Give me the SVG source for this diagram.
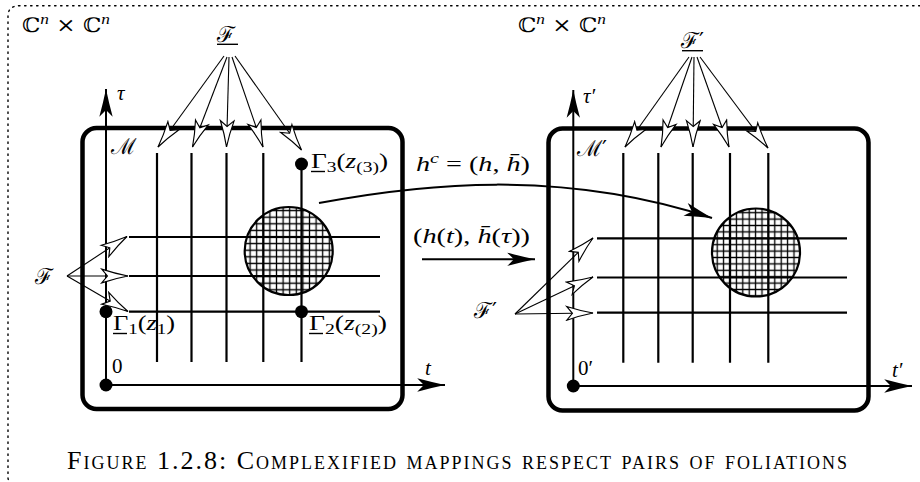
<svg xmlns="http://www.w3.org/2000/svg" width="920" height="482" viewBox="0 0 920 482">
<style>
.bg{fill:#fff}
.frame{fill:none;stroke:#000;stroke-width:1.4;stroke-dasharray:1.4 4.6;stroke-linecap:round}
.box{fill:none;stroke:#000;stroke-width:4.5}
.fol{stroke:#000;stroke-width:2.2;fill:none}
.axis{stroke:#000;stroke-width:2;fill:none}
.thin{stroke:#000;stroke-width:1.1;fill:none}
.circ{fill:none;stroke:#000;stroke-width:2.2}
.dot{fill:#000}
.ul{stroke:#000;stroke-width:1.4}
text{fill:#000}
.mi{font-family:"Liberation Serif","DejaVu Serif",serif;font-style:italic;font-size:21px}
.mr{font-family:"Liberation Serif","DejaVu Serif",serif;font-style:normal;font-size:21px}
.cal{font-family:"DejaVu Serif",serif;font-style:normal;font-size:22px}
.bb{font-family:"DejaVu Serif",serif;font-style:normal;font-size:20px}
.sup{font-family:"Liberation Serif",serif;font-style:italic;font-size:15px}
.sub{font-family:"Liberation Serif",serif;font-style:normal;font-size:15px}
.subi{font-family:"Liberation Serif",serif;font-style:italic;font-size:15px}
.cap{font-family:"Liberation Serif",serif;font-size:26px;font-variant:small-caps}
</style>
<defs>
<marker id="open" markerUnits="userSpaceOnUse" markerWidth="30" markerHeight="16" viewBox="-25 -7 26 14" refX="0" refY="0" orient="auto">
<path d="M0,0 Q-11,-2 -23,-6 L-18,0 L-23,6 Q-11,2 0,0 Z" fill="#fff" stroke="#000" stroke-width="1"/>
</marker>
<marker id="solid" markerUnits="userSpaceOnUse" markerWidth="30" markerHeight="16" viewBox="-26 -7 27 14" refX="0" refY="0" orient="auto">
<path d="M0,0 Q-12,-2.5 -25,-6 L-19,0 L-25,6 Q-12,2.5 0,0 Z" fill="#000"/>
</marker>
<pattern id="hatchL" patternUnits="userSpaceOnUse" x="260" y="233.7" width="6.6" height="6.6">
<path d="M3.3,0 V6.6 M0,3.3 H6.6" stroke="#000" stroke-width="1.3" fill="none"/>
</pattern>
<pattern id="hatchR" patternUnits="userSpaceOnUse" x="726.8" y="235.1" width="6.4" height="6.4">
<path d="M3.2,0 V6.4 M0,3.2 H6.4" stroke="#000" stroke-width="1.3" fill="none"/>
</pattern>
</defs>
<rect class="bg" width="920" height="482"/>
<path class="frame" d="M920,5.7 H20 Q8,5.7 8,16 V478 Q8,480 10,481"/>

<g id="left-space">
<text class="bb" x="22" y="32" textLength="88" lengthAdjust="spacingAndGlyphs">ℂ<tspan class="sup" dy="-8">n</tspan><tspan dy="8"> × ℂ</tspan><tspan class="sup" dy="-8">n</tspan></text>
</g>
<g id="right-space">
<text class="bb" x="518" y="32" textLength="88" lengthAdjust="spacingAndGlyphs">ℂ<tspan class="sup" dy="-8">n</tspan><tspan dy="8"> × ℂ</tspan><tspan class="sup" dy="-8">n</tspan></text>
</g>

<g id="left-manifold">
<rect class="box" x="82.5" y="128" width="320" height="281" rx="14"/>
<clipPath id="cl"><circle cx="288.7" cy="251" r="44"/></clipPath>
<rect x="244" y="206" width="90" height="90" fill="url(#hatchL)" clip-path="url(#cl)"/>
<path class="fol" d="M157,153 V362 M191.5,153 V362 M226.5,153 V362 M263.3,153 V362 M301.5,164 V362"/>
<path class="fol" d="M129,237 H380 M129,276 H380 M129,311.7 H380"/>
<circle class="circ" cx="288.7" cy="251" r="44"/>
<text class="cal" x="111" y="154">ℳ</text>
</g>

<g id="left-axes">
<path class="axis" d="M106,385 V89" marker-end="url(#solid)"/>
<path class="axis" d="M106,385 H445" marker-end="url(#solid)"/>
<circle class="dot" cx="106" cy="385" r="6.5"/>
<text class="mi" x="117" y="100">τ</text>
<text class="mr" x="112" y="373">0</text>
<text class="mi" x="425" y="375">t</text>
</g>

<g id="gamma1">
<circle class="dot" cx="106" cy="311.7" r="6.5"/>
<text class="mr" x="113" y="330" textLength="62" lengthAdjust="spacingAndGlyphs">Γ<tspan class="sub" dy="4">1</tspan><tspan dy="-4">(</tspan><tspan class="mi">z</tspan><tspan class="sub" dy="4">1</tspan><tspan dy="-4">)</tspan></text>
<line class="ul" x1="113" y1="333.5" x2="127" y2="333.5"/>
</g>
<g id="gamma2">
<circle class="dot" cx="301.5" cy="311.7" r="6.5"/>
<text class="mr" x="309" y="330" textLength="78" lengthAdjust="spacingAndGlyphs">Γ<tspan class="sub" dy="4">2</tspan><tspan dy="-4">(</tspan><tspan class="mi">z</tspan><tspan class="sub" dy="4">(2)</tspan><tspan dy="-4">)</tspan></text>
<line class="ul" x1="309" y1="333.5" x2="323" y2="333.5"/>
</g>
<g id="gamma3">
<circle class="dot" cx="301.5" cy="164" r="6.5"/>
<text class="mr" x="311" y="168" textLength="77" lengthAdjust="spacingAndGlyphs">Γ<tspan class="sub" dy="4">3</tspan><tspan dy="-4">(</tspan><tspan class="mi">z</tspan><tspan class="sub" dy="4">(3)</tspan><tspan dy="-4">)</tspan></text>
<line class="ul" x1="311" y1="171.5" x2="325" y2="171.5"/>
</g>

<g id="label-F-top">
<text class="cal" x="217" y="42">ℱ</text>
<line class="ul" x1="217" y1="44.3" x2="238" y2="44.3"/>
</g>
<g id="label-F-side">
<text class="cal" x="35" y="284">ℱ</text>
</g>

<g id="right-manifold">
<rect class="box" x="548.5" y="128.5" width="320" height="282" rx="14"/>
<clipPath id="cr"><circle cx="756" cy="252.5" r="44"/></clipPath>
<rect x="711" y="207" width="90" height="90" fill="url(#hatchR)" clip-path="url(#cr)"/>
<path class="fol" d="M623.3,153 V362.7 M658.3,153 V362.7 M692.7,153 V362.7 M730,153 V362.7 M768.3,153 V362.7"/>
<path class="fol" d="M597,238.3 H847 M597,277.5 H847 M597,312.7 H847"/>
<circle class="circ" cx="756" cy="252.5" r="44"/>
<text class="cal" x="577" y="156">ℳ′</text>
</g>

<g id="right-axes">
<path class="axis" d="M573.3,386 V90" marker-end="url(#solid)"/>
<path class="axis" d="M573.3,386 H912" marker-end="url(#solid)"/>
<circle class="dot" cx="573.3" cy="386" r="6.5"/>
<text class="mi" x="583" y="103">τ′</text>
<text class="mr" x="578" y="375">0′</text>
<text class="mi" x="892" y="377">t′</text>
</g>

<g id="label-Fp-top">
<text class="cal" x="681" y="48">ℱ′</text>
<line class="ul" x1="682" y1="50.7" x2="703" y2="50.7"/>
</g>
<g id="label-Fp-side">
<text class="cal" x="474" y="318">ℱ′</text>
</g>

<g id="map-labels">
<text class="mi" x="416" y="171" textLength="114" lengthAdjust="spacingAndGlyphs">h<tspan class="subi" dy="-8">c</tspan><tspan class="mr" dy="8"> = (</tspan>h<tspan class="mr">, </tspan>h̄<tspan class="mr">)</tspan></text>
<text class="mr" x="413" y="243" textLength="117" lengthAdjust="spacingAndGlyphs">(<tspan class="mi">h</tspan>(<tspan class="mi">t</tspan>), <tspan class="mi">h̄</tspan>(<tspan class="mi">τ</tspan>))</text>
</g>

<g id="connectors">
<path class="thin" d="M224,56 L158,147" marker-end="url(#open)"/>
<path class="thin" d="M227,57 L192.5,147" marker-end="url(#open)"/>
<path class="thin" d="M229,57 L226.5,147" marker-end="url(#open)"/>
<path class="thin" d="M232,57 L263,147" marker-end="url(#open)"/>
<path class="thin" d="M235,56 L301.5,150" marker-end="url(#open)"/>
<path class="thin" d="M67,276 L127,236.5" marker-end="url(#open)"/>
<path class="thin" d="M67,276 L128,276" marker-end="url(#open)"/>
<path class="thin" d="M67,276 L128,311.5" marker-end="url(#open)"/>
<path class="thin" d="M689,57 L625,147" marker-end="url(#open)"/>
<path class="thin" d="M692,57 L661,147" marker-end="url(#open)"/>
<path class="thin" d="M694,57 L693,147" marker-end="url(#open)"/>
<path class="thin" d="M697,57 L729,147" marker-end="url(#open)"/>
<path class="thin" d="M700,57 L768,148" marker-end="url(#open)"/>
<path class="thin" d="M515,314 L593,238" marker-end="url(#open)"/>
<path class="thin" d="M515,314 L593,277" marker-end="url(#open)"/>
<path class="thin" d="M515,314 L593,313" marker-end="url(#open)"/>
<path class="axis" d="M319,203 C420,184 560,168 712,218" marker-end="url(#solid)"/>
<path class="axis" d="M422,259.3 H535" marker-end="url(#solid)"/>
</g>

<g id="caption">
<text class="cap" x="67" y="469" textLength="780" lengthAdjust="spacing">Figure 1.2.8: Complexified mappings respect pairs of foliations</text>
</g>
</svg>
